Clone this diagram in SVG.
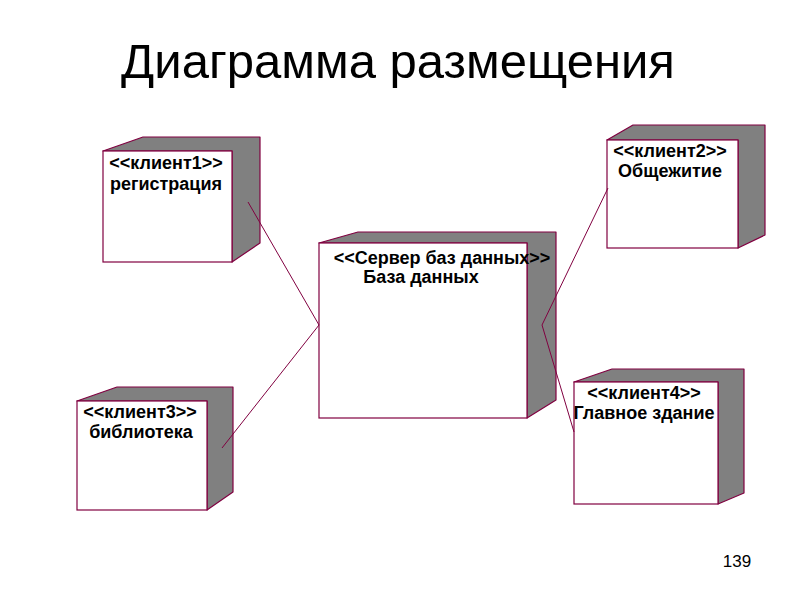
<svg xmlns="http://www.w3.org/2000/svg" width="800" height="600" viewBox="0 0 800 600">
<style>
.front{fill:#ffffff;stroke:#800040;stroke-width:1.2}
.side{fill:#808080;stroke:#800040;stroke-width:1.2;stroke-linejoin:round}
.lbl{font-family:"Liberation Sans",Arial,sans-serif;font-weight:bold;font-size:18px;fill:#000;text-anchor:middle}
.title{font-family:"Liberation Sans",Arial,sans-serif;font-size:49px;fill:#000;text-anchor:middle}
.num{font-family:"Liberation Sans",Arial,sans-serif;font-size:17px;fill:#000;text-anchor:middle}
.conn{fill:none;stroke:#800040;stroke-width:1}
</style>
<rect width="800" height="600" fill="#ffffff"/>
<text class="title" x="398" y="78">Диаграмма размещения</text>
<g id="client1">
<polygon class="side" points="103,151 143,137 260,137 260,243 232,262 232,151"/>
<rect class="front" x="103" y="151" width="129" height="111"/>
<text class="lbl" x="166" y="169">&lt;&lt;клиент1&gt;&gt;</text>
<text class="lbl" x="166" y="190">регистрация</text>
</g>
<g id="server">
<polygon class="side" points="319,243 358,232 556,232 556,400 527,418 527,243"/>
<rect class="front" x="319" y="243" width="208" height="175"/>
<text class="lbl" x="442" y="264">&lt;&lt;Сервер баз данных&gt;&gt;</text>
<text class="lbl" x="421" y="283">База данных</text>
</g>
<g id="client2">
<polygon class="side" points="607,140 633,125 765,125 765,235 738,248 738,140"/>
<rect class="front" x="607" y="140" width="131" height="108"/>
<text class="lbl" x="670" y="157">&lt;&lt;клиент2&gt;&gt;</text>
<text class="lbl" x="670" y="177">Общежитие</text>
</g>
<g id="client3">
<polygon class="side" points="77,401 117,387 233,387 233,492 207,510 207,401"/>
<rect class="front" x="77" y="401" width="130" height="109"/>
<text class="lbl" x="140" y="418">&lt;&lt;клиент3&gt;&gt;</text>
<text class="lbl" x="141" y="438">библиотека</text>
</g>
<g id="client4">
<polygon class="side" points="574,382 612,369 744,369 744,493 718,504 718,382"/>
<rect class="front" x="574" y="382" width="144" height="122"/>
<text class="lbl" x="644" y="399">&lt;&lt;клиент4&gt;&gt;</text>
<text class="lbl" x="644" y="419">Главное здание</text>
</g>
<g id="connectors">
<polyline class="conn" points="248,202 319,325 222,448"/>
<polyline class="conn" points="608,188 542,325 574,432"/>
</g>
<text class="num" x="737" y="567">139</text>
</svg>
